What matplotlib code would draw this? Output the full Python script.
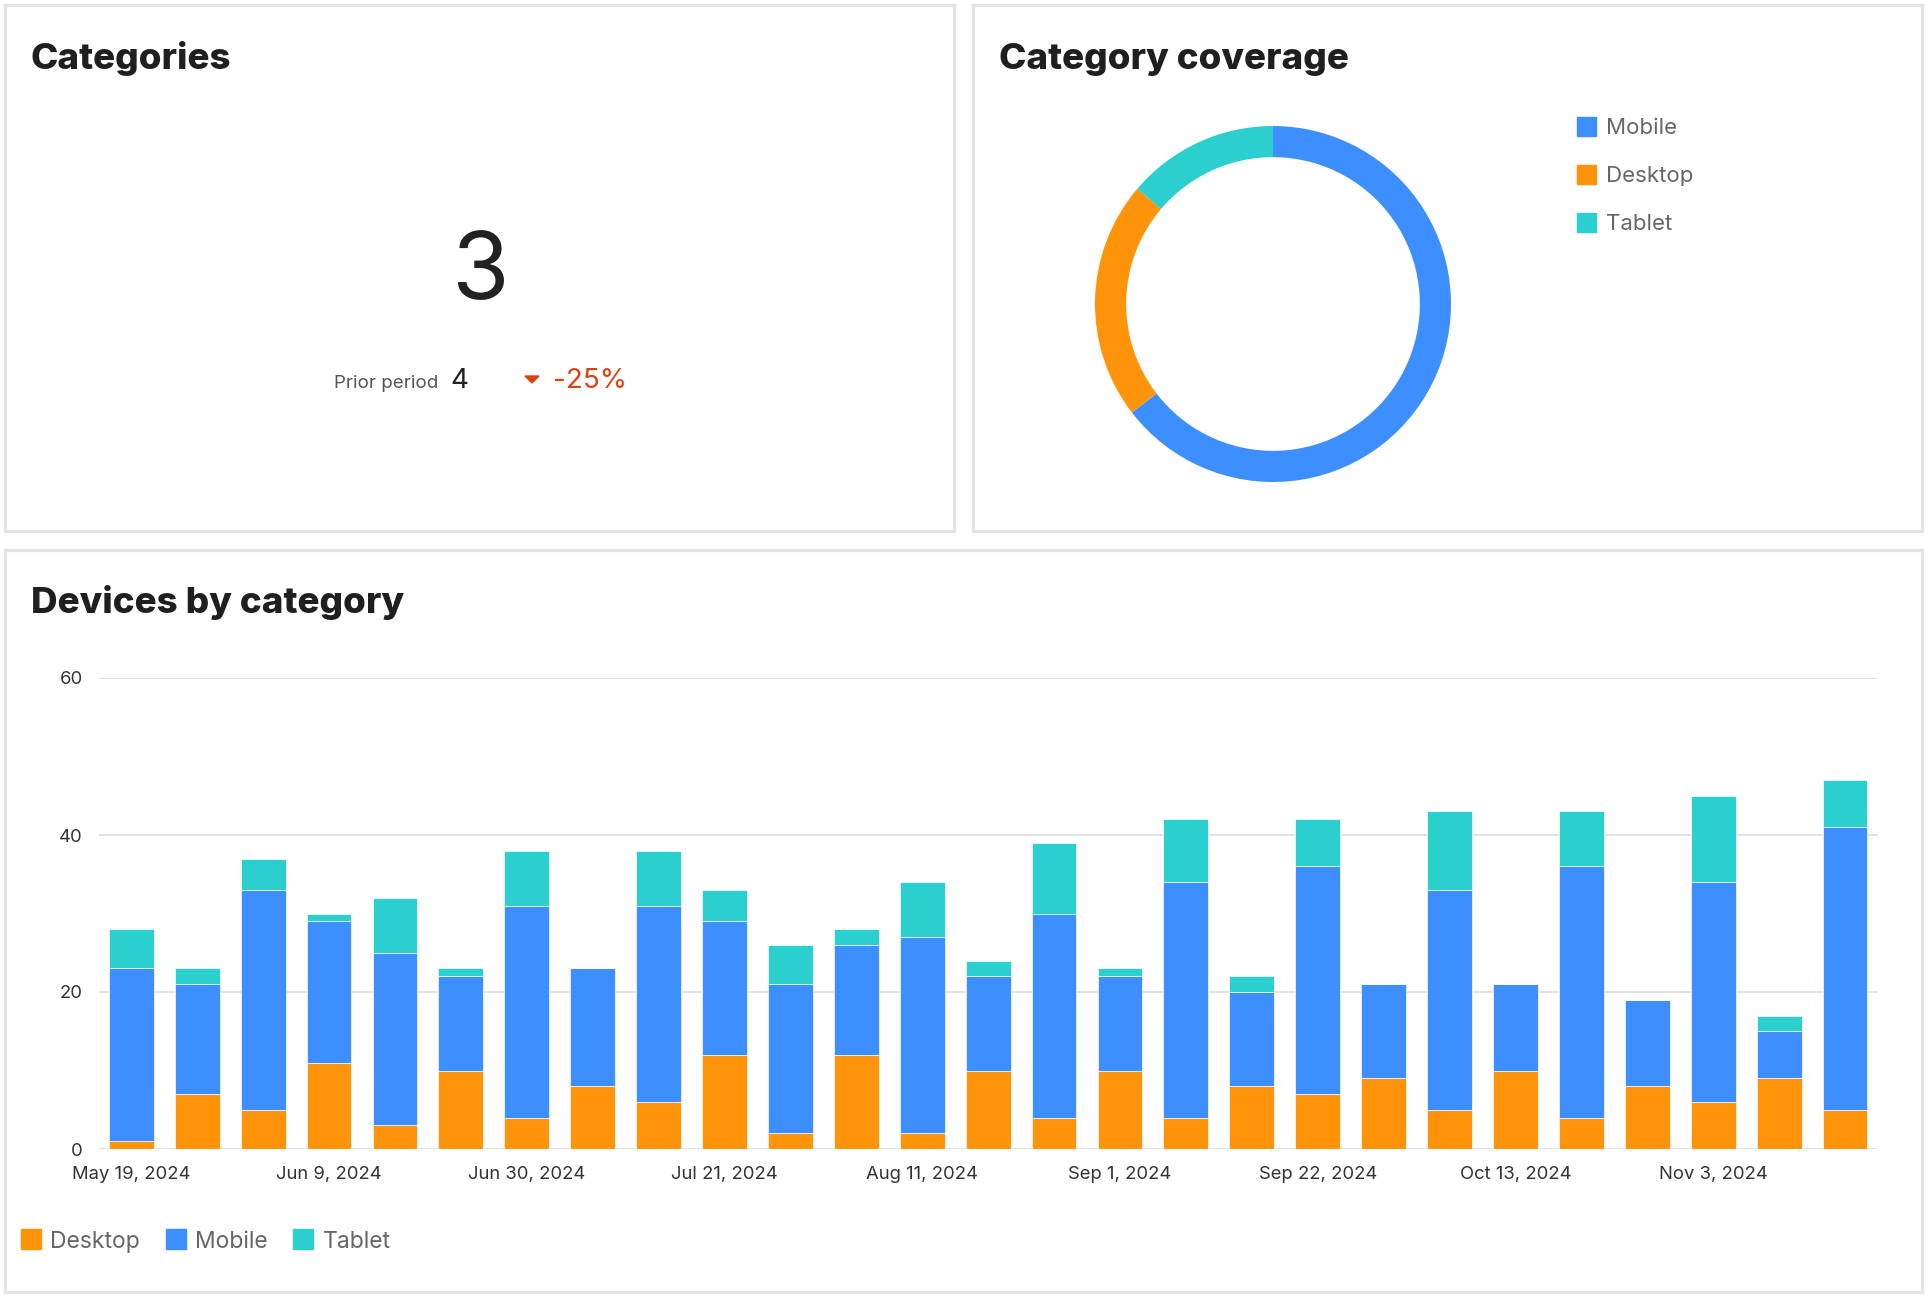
import matplotlib
matplotlib.use("Agg")
import matplotlib.pyplot as plt
from matplotlib.patches import Rectangle, Polygon
import numpy as np
import pandas as pd

plt.rcParams['font.family'] = ['Inter', 'DejaVu Sans']

W, H = 1928, 1302

# weekly buckets
weeks = pd.date_range("2024-05-19", periods=27, freq="7D")
desktop = [1, 7, 5, 11, 3, 10, 4, 8, 6, 12, 2, 12, 2, 10, 4, 10, 4, 8, 7, 9, 5, 10, 4, 8, 6, 9, 5]
mobile = [22, 14, 28, 18, 22, 12, 27, 15, 25, 17, 19, 14, 25, 12, 26, 12, 30, 12, 29, 12, 28, 11, 32, 11, 28, 6, 36]
tablet = [5, 2, 4, 1, 7, 1, 7, 0, 7, 4, 5, 2, 7, 2, 9, 1, 8, 2, 6, 0, 10, 0, 7, 0, 11, 2, 6]

kpi_current = 3
kpi_prior = 4

colors = {"Desktop": "#FF930A", "Mobile": "#3D8FFF", "Tablet": "#2BCFCD"}
red = "#E0400E"
border = "#e4e4e4"

fig = plt.figure(figsize=(W / 100, H / 100), dpi=100)
fig.patch.set_facecolor("white")


def fx(x):
    return x / W


def fy(y):
    return 1 - y / H


def panel(x0, y0, x1, y1):
    fig.patches.append(Rectangle((fx(x0), fy(y1)), fx(x1) - fx(x0), fy(y0) - fy(y1),
                                 transform=fig.transFigure, fill=False,
                                 edgecolor=border, linewidth=2.3))


def square(x, y, size, color):
    fig.patches.append(Rectangle((fx(x), fy(y + size)), size / W, size / H,
                                 transform=fig.transFigure, color=color))


panel(5, 5, 954, 531)
panel(973, 5, 1922, 531)
panel(5, 550, 1922, 1292)

title_kw = dict(fontsize=26.5, fontweight=800, color="#1f1f1f", va="baseline")
fig.text(fx(31), fy(69), "Categories", **title_kw)
fig.text(fx(999), fy(69), "Category coverage", **title_kw)
fig.text(fx(31), fy(613), "Devices by category", **title_kw)

# KPI
change = (kpi_current - kpi_prior) / kpi_prior * 100
fig.text(fx(480), fy(299), str(kpi_current), fontsize=67, ha="center", va="baseline", color="#222222")
fig.text(fx(334), fy(388), "Prior period", fontsize=13.5, va="baseline", color="#555555")
fig.text(fx(450), fy(388), str(kpi_prior), fontsize=20, va="baseline", color="#222222")
fig.patches.append(Polygon([(fx(525), fy(376)), (fx(539), fy(376)), (fx(532), fy(383))],
                           closed=True, transform=fig.transFigure, color=red))
fig.text(fx(553), fy(388), f"{change:.0f}%", fontsize=20, va="baseline", color=red)

# donut
totals = {"Mobile": sum(mobile), "Desktop": sum(desktop), "Tablet": sum(tablet)}
r = 178
cx, cy = 1273, 304
ax_d = fig.add_axes([fx(cx - r), fy(cy + r), 2 * r / W, 2 * r / H])
ax_d.pie(list(totals.values()), colors=[colors[k] for k in totals], startangle=90,
         counterclock=False, radius=1, wedgeprops=dict(width=0.175, linewidth=0))
ax_d.set_xlim(-1, 1)
ax_d.set_ylim(-1, 1)
ax_d.axis("off")

for i, name in enumerate(totals):
    yc = 126.5 + i * 48
    square(1577, yc - 9.5, 19, colors[name])
    fig.text(fx(1606), fy(yc + 8), name, fontsize=16, va="baseline", color="#666666")

# stacked bars
ax = fig.add_axes([fx(99), fy(1149), (1878 - 99) / W, (1149 - 678) / H])
x = np.arange(len(weeks))
bw = 0.68
d = np.array(desktop)
m = np.array(mobile)
t = np.array(tablet)
ax.bar(x, d, bw, color=colors["Desktop"], edgecolor="white", linewidth=0.5)
ax.bar(x, m, bw, bottom=d, color=colors["Mobile"], edgecolor="white", linewidth=0.5)
ax.bar(x, t, bw, bottom=d + m, color=colors["Tablet"], edgecolor="white", linewidth=0.5)

ax.set_xlim(-0.49, len(weeks) - 0.5)
ax.set_ylim(0, 60)
ax.set_yticks([0, 20, 40, 60])
ax.yaxis.grid(True, color="#e3e3e3", linewidth=1.4)
ax.set_axisbelow(True)
ticks = x[::3]
ax.set_xticks(ticks)
ax.set_xticklabels([f"{w:%b} {w.day}, {w.year}" for w in weeks[::3]])
ax.tick_params(axis="both", length=0, labelsize=13.3, labelcolor="#333333")
ax.tick_params(axis="y", pad=11.5)
ax.tick_params(axis="x", pad=12.5)
for s in ax.spines.values():
    s.set_visible(False)

legend_items = [("Desktop", 21, 50), ("Mobile", 166, 195), ("Tablet", 293, 323)]
for name, sx, tx in legend_items:
    square(sx, 1229, 20, colors[name])
    fig.text(fx(tx), fy(1248), name, fontsize=16.5, va="baseline", color="#666666")

fig.savefig("out.png", dpi=100, facecolor="white")
